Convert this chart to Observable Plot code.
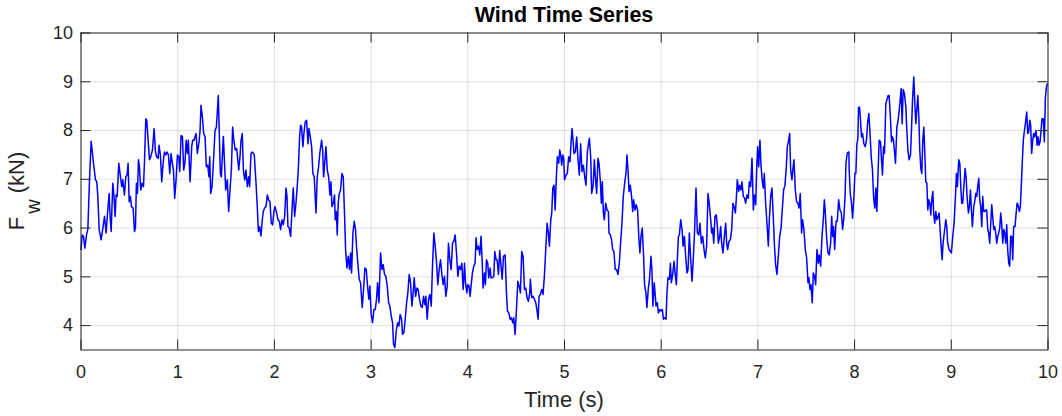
<!DOCTYPE html>
<html>
<head>
<meta charset="utf-8">
<script src="https://cdn.jsdelivr.net/npm/d3@7"></script>
<script src="https://cdn.jsdelivr.net/npm/@observablehq/plot@0.6"></script>
<style>
  html, body { margin: 0; padding: 0; background: #fff; }
  #wrap { position: relative; width: 1062px; height: 416px; }
  #title { position: absolute; left: 80px; width: 968px; top: 3px; text-align: center;
           font: bold 21.5px "Liberation Sans", Arial, sans-serif; color: #000; }
</style>
</head>
<body>
<div id="wrap"><div id="title">Wind Time Series</div></div>
<script>
const title = "Wind Time Series";
const xLabel = "Time (s)";
const yLabelMain = "F";
const yLabelSub = "w";
const yLabelUnit = " (kN)";
const xTicks = [0, 1, 2, 3, 4, 5, 6, 7, 8, 9, 10];
const yTicks = [4, 5, 6, 7, 8, 9, 10];

const time = [
0.000,0.012,0.026,0.040,0.057,0.071,0.088,0.105,0.115,0.129,0.150,0.163,0.174,0.188,0.208,0.226,0.243,0.260,0.274,0.291,
0.301,0.312,0.329,0.339,0.353,0.363,0.374,0.391,0.408,0.422,0.432,0.449,0.463,0.477,0.487,0.498,0.511,0.522,0.539,0.553,
0.563,0.573,0.584,0.594,0.604,0.618,0.632,0.646,0.656,0.670,0.680,0.694,0.708,0.721,0.739,0.756,0.770,0.783,0.797,0.807,
0.821,0.835,0.849,0.863,0.876,0.890,0.904,0.918,0.931,0.945,0.956,0.969,0.983,0.997,1.011,1.021,1.035,1.049,1.062,1.076,
1.087,1.100,1.110,1.128,1.145,1.155,1.169,1.179,1.190,1.203,1.221,1.231,1.241,1.255,1.269,1.283,1.296,1.310,1.324,1.331,
1.341,1.355,1.369,1.386,1.400,1.420,1.431,1.441,1.451,1.472,1.486,1.496,1.513,1.527,1.541,1.555,1.568,1.582,1.596,1.610,
1.620,1.631,1.644,1.655,1.668,1.679,1.693,1.706,1.720,1.734,1.744,1.758,1.772,1.792,1.810,1.823,1.834,1.847,1.861,1.875,
1.885,1.899,1.913,1.927,1.940,1.954,1.968,1.982,1.995,2.006,
2.023,2.037,2.051,2.064,2.078,2.092,2.106,2.120,2.130,2.140,2.154,2.168,2.182,2.195,2.209,2.223,2.236,2.247,2.261,2.271,
2.281,2.295,2.305,2.319,2.333,2.347,2.357,2.371,2.385,2.398,2.412,2.430,2.443,2.457,2.471,2.488,2.499,2.509,2.519,2.533,
2.547,2.561,2.574,2.585,2.595,2.609,2.622,2.629,2.640,2.650,2.660,2.671,2.684,2.698,2.712,2.726,2.736,2.750,2.764,2.777,
2.788,2.798,2.812,2.826,2.839,2.850,2.863,2.877,2.891,2.908,2.922,2.936,2.950,2.963,2.977,2.987,3.001,3.015,3.029,3.043,
3.056,3.067,3.081,3.098,3.112,3.125,3.139,3.153,3.167,3.181,3.194,3.208,3.222,3.232,3.246,3.260,3.274,3.287,3.301,3.315,
3.325,3.339,3.353,3.367,3.380,3.394,3.408,3.422,3.432,3.446,3.460,3.474,3.487,3.501,3.515,3.529,3.542,3.556,3.566,3.580,
3.594,3.608,3.622,3.635,3.649,3.663,3.677,3.690,3.704,3.718,3.732,3.745,3.759,3.773,3.787,3.800,3.814,3.828,3.842,3.856,
3.869,3.883,3.897,3.911,3.925,3.938,3.952,3.966,
3.976,3.990,4.000,4.013,4.024,4.037,4.048,4.062,4.075,4.086,4.096,4.110,4.124,4.137,4.148,4.158,4.172,4.182,4.193,4.206,
4.217,4.231,4.241,4.255,4.269,4.279,4.293,4.303,4.317,4.330,4.341,4.355,4.369,4.386,4.400,4.410,4.424,4.438,4.451,4.465,
4.475,4.489,4.503,4.517,4.531,4.544,4.558,4.572,4.586,4.599,4.613,4.627,4.641,4.647,4.661,4.675,4.689,4.703,4.716,4.727,
4.737,4.751,4.765,4.778,4.792,4.806,4.820,4.833,4.844,4.858,4.868,4.879,4.892,4.903,4.916,4.926,4.940,4.951,4.961,4.971,
4.982,4.992,5.000,5.016,5.029,5.043,5.057,5.067,5.078,5.088,5.098,5.112,5.126,5.140,5.153,5.167,5.181,5.195,5.209,5.222,
5.236,5.246,5.257,5.271,5.281,5.295,5.309,5.319,5.333,5.346,5.357,5.371,5.381,5.391,5.402,5.412,5.426,5.440,5.454,5.460,
5.474,5.487,5.498,5.511,5.525,5.539,5.553,5.567,5.580,5.594,5.608,5.622,5.636,5.646,5.657,5.667,5.680,5.694,5.705,5.715,
5.729,5.742,5.756,5.770,5.780,5.791,5.804,5.818,5.828,5.842,5.852,5.866,5.880,5.894,5.904,5.914,5.928,
5.947,5.960,5.971,5.985,5.998,6.012,6.023,6.037,6.050,6.060,6.070,6.084,6.095,6.105,6.119,6.133,6.143,6.157,6.167,6.178,
6.188,6.202,6.216,6.226,6.240,6.253,6.267,6.278,6.291,6.305,6.319,6.333,6.346,6.360,6.374,6.388,6.401,6.415,6.429,6.443,
6.456,6.470,6.484,6.498,6.512,6.522,6.532,6.543,6.556,6.570,6.581,6.591,6.605,6.615,6.625,6.639,6.653,6.667,6.677,6.687,
6.701,6.715,6.729,6.742,6.753,6.767,6.777,6.787,6.801,6.811,6.825,6.835,6.849,6.863,6.873,6.887,6.901,6.911,6.925,6.939,
6.953,6.963,6.977,6.987,6.997,7.008,7.021,7.032,7.046,7.056,7.066,7.080,7.094,7.108,7.118,7.132,7.145,7.159,7.170,7.183,
7.197,7.211,7.225,7.239,7.252,7.266,7.280,7.294,7.304,7.318,7.328,7.339,7.352,7.363,7.373,7.387,7.400,7.414,7.425,7.438,
7.452,7.462,7.476,7.490,7.504,7.518,7.528,7.538,7.549,7.562,7.573,7.587,7.597,7.611,7.625,7.635,7.649,7.663,7.676,7.687,
7.697,7.711,7.725,7.738,7.752,7.763,7.773,7.783,7.794,7.808,7.821,7.835,7.849,7.863,7.876,7.890,7.901,7.911,
7.924,7.941,7.944,7.955,7.968,7.979,7.993,8.003,8.013,8.023,8.034,8.041,8.051,8.061,8.072,8.082,8.096,8.110,8.123,8.134,
8.147,8.158,8.172,8.185,8.196,8.209,8.220,8.230,8.240,8.254,8.268,8.278,8.288,8.299,8.309,8.323,8.337,8.347,8.357,8.371,
8.382,8.392,8.402,8.413,8.423,8.437,8.450,8.461,8.471,8.481,8.492,8.502,8.516,8.530,8.540,8.551,8.564,8.578,8.588,8.599,
8.612,8.623,8.633,8.643,8.654,8.664,8.674,8.685,8.695,8.705,8.716,8.726,8.736,8.747,8.757,8.767,8.778,8.788,8.798,8.809,
8.819,8.829,8.840,8.850,8.864,8.874,8.884,8.895,8.905,8.915,8.929,8.943,8.953,8.963,8.977,8.991,9.001,9.015,9.029,9.043,
9.053,9.063,9.077,9.088,9.098,9.108,9.118,9.132,9.143,9.153,9.163,9.177,9.187,9.198,9.208,9.218,9.232,9.242,9.253,9.263,
9.273,9.284,9.294,9.304,9.315,9.325,9.335,9.346,9.356,9.366,9.377,9.387,9.397,9.408,9.418,9.428,9.439,9.449,9.459,9.470,
9.480,9.490,9.501,9.511,9.521,9.532,9.542,9.552,9.563,9.573,9.583,9.594,9.604,9.614,9.625,9.635,9.645,9.659,9.669,9.680,
9.690,9.704,9.714,9.725,9.735,9.745,9.756,9.766,9.780,9.790,9.800,9.811,9.821,9.831,9.842,9.852,9.862,9.876,9.887,9.897,
9.907,9.918,9.928,9.938,9.952,9.962,9.973,9.983,9.993
];

const force = [
5.56,5.86,5.83,5.59,5.86,5.98,6.99,7.78,7.60,7.33,6.99,6.95,6.65,5.97,5.76,6.00,6.24,5.90,6.30,6.71,
6.24,5.93,6.92,6.71,6.24,6.68,6.65,7.33,7.05,6.85,6.99,6.68,7.05,7.09,7.33,6.54,6.65,6.44,6.41,5.93,
6.00,6.92,6.71,7.40,7.26,6.78,6.92,6.85,7.33,8.24,8.21,7.80,7.40,7.46,7.60,8.04,7.56,7.46,7.43,7.70,
7.50,6.95,7.33,7.56,7.50,7.56,7.50,7.12,7.53,7.33,7.19,6.61,6.99,7.50,7.46,7.16,7.90,7.87,7.19,7.36,
7.80,7.53,7.80,6.95,7.67,7.80,7.80,7.87,7.94,7.53,7.77,8.00,8.52,8.28,7.94,7.87,7.26,7.29,7.05,7.46,
6.71,6.85,7.33,8.00,8.07,8.72,7.87,7.12,7.05,7.88,7.26,6.78,6.99,6.34,6.78,7.19,8.07,7.77,7.60,7.63,
7.43,7.19,7.46,7.80,7.94,7.19,6.99,7.19,6.85,7.05,6.85,7.53,7.56,7.50,6.92,6.44,5.93,6.03,5.84,6.17,
6.34,6.41,6.44,6.68,6.58,6.54,6.10,6.07,6.34,6.44,
6.31,6.17,6.14,5.97,6.17,6.07,6.24,6.82,6.65,6.03,6.00,5.83,6.37,6.82,6.24,6.51,6.85,7.19,7.87,8.11,
8.07,7.67,7.94,8.18,8.21,7.73,8.04,7.87,7.67,7.12,7.05,6.31,7.05,7.26,7.56,7.80,7.60,7.05,7.29,7.67,
7.19,7.05,6.68,6.95,6.44,6.51,6.68,6.17,6.34,5.86,6.51,6.71,6.78,7.12,7.05,6.24,5.56,5.18,5.42,5.15,
5.49,5.08,5.90,6.14,5.97,5.59,5.28,4.95,4.88,4.37,4.74,5.18,5.15,4.81,4.54,4.81,4.23,4.06,4.33,4.33,
4.54,4.88,4.47,5.49,5.15,5.25,5.05,5.01,4.81,4.47,4.40,4.20,4.06,3.62,3.55,3.89,4.06,3.99,4.23,4.13,
3.82,3.86,4.13,4.47,4.67,5.05,4.88,4.40,4.60,4.98,4.60,4.77,4.74,4.54,4.40,4.37,4.60,4.43,4.60,4.13,
4.54,4.64,4.40,5.22,5.90,5.63,5.28,4.84,5.15,5.35,5.05,4.84,5.01,4.60,4.81,5.69,5.35,5.15,5.69,5.73,
5.86,5.49,5.01,5.22,5.15,5.28,4.74,5.28,
4.88,4.67,4.84,4.81,4.60,4.88,5.08,5.22,5.28,5.80,5.56,5.63,5.45,5.83,5.35,4.77,5.08,4.84,5.35,5.28,
4.98,5.18,4.98,4.98,5.01,5.52,5.35,5.35,5.05,5.54,5.28,4.95,5.42,5.45,4.67,4.30,4.26,4.13,4.16,4.06,
4.16,3.82,4.33,4.91,4.81,4.67,5.52,5.42,4.74,4.77,4.57,4.50,4.67,4.95,4.57,4.60,4.54,4.47,4.30,4.13,
4.60,4.64,4.74,4.64,5.01,5.56,6.10,5.90,5.63,6.17,6.31,6.82,6.88,6.37,7.05,7.46,7.33,7.60,7.50,7.29,
7.50,7.43,6.99,7.09,7.12,7.46,7.36,7.73,8.04,7.80,7.53,7.56,7.87,7.40,7.09,7.73,7.16,7.29,7.05,6.88,
7.56,7.70,7.84,7.46,6.71,6.85,7.40,7.05,6.71,7.43,7.33,6.95,6.51,6.95,6.31,6.17,6.51,6.37,6.34,5.90,
5.86,5.76,5.56,5.52,5.15,5.15,5.05,5.28,5.69,6.10,6.65,6.92,7.12,7.50,7.19,6.75,6.88,6.65,6.34,6.58,
6.37,6.48,6.37,5.76,5.49,5.83,6.00,5.42,4.84,4.67,4.37,4.74,4.98,5.42,5.15,4.40,4.88,
4.40,4.47,4.26,4.33,4.30,4.33,4.13,4.16,4.13,4.67,4.98,4.95,5.28,4.88,5.05,5.32,5.08,4.84,5.35,5.83,
5.86,6.17,5.97,5.63,5.83,5.42,5.08,5.15,5.90,5.35,4.91,5.42,5.97,6.82,5.90,5.86,6.10,5.69,5.83,5.56,
5.39,5.63,6.71,6.48,6.17,5.90,6.00,5.69,6.24,6.27,6.03,5.69,5.83,6.03,5.69,5.49,5.83,6.10,5.69,5.56,
5.73,5.76,5.97,6.51,6.44,6.31,6.61,6.99,6.75,6.88,6.78,6.95,6.65,6.61,6.51,6.68,6.61,6.95,6.85,7.43,
6.37,6.68,6.48,7.19,7.67,7.26,7.80,7.29,6.95,6.82,7.12,6.51,6.10,5.63,6.17,6.65,6.82,6.24,5.69,5.25,
5.05,5.42,5.83,6.00,6.37,6.78,6.88,7.26,7.67,7.80,7.94,7.19,6.99,7.23,7.40,6.78,6.54,6.51,6.41,6.71,
5.90,6.17,5.97,5.56,5.39,4.88,4.98,4.74,4.84,4.47,5.08,5.01,4.84,5.56,5.28,5.45,5.22,5.83,6.17,6.58,
6.31,5.80,5.49,5.45,5.69,6.24,5.83,6.03,5.56,6.14,6.14,6.58,6.37,6.31,5.97,6.24,6.65,7.33,
7.54,7.56,7.19,6.71,6.51,6.20,6.65,7.12,7.12,7.70,7.84,8.48,8.48,8.21,7.87,7.94,7.73,7.67,7.80,8.14,
8.35,8.00,7.46,7.19,6.65,6.41,6.82,6.34,6.99,7.80,7.77,7.40,7.09,7.67,7.53,8.55,8.65,8.72,8.72,8.24,
7.77,7.87,7.80,7.56,7.33,8.07,8.21,8.41,8.62,8.86,8.14,8.84,8.75,8.48,8.00,7.60,7.40,7.50,8.00,8.62,
9.10,8.55,8.14,8.41,8.72,8.28,7.60,7.22,7.12,7.80,8.07,7.53,6.95,6.92,6.37,6.58,6.51,6.27,6.58,6.75,
6.27,6.10,6.34,6.17,6.24,6.31,5.97,5.63,5.35,5.69,5.93,6.17,6.03,5.69,5.56,5.52,5.49,5.83,6.10,6.65,
7.12,6.85,7.40,7.33,6.85,6.51,6.51,6.92,7.22,7.05,6.65,6.31,6.44,6.78,6.37,6.03,6.44,6.54,6.71,6.65,
6.85,7.02,6.58,6.44,6.03,6.65,6.34,6.34,6.37,6.37,5.97,5.90,5.69,6.10,6.48,6.24,5.97,6.03,5.90,5.69,
5.83,5.90,6.00,6.31,6.10,5.69,5.97,5.90,5.69,6.07,5.56,5.28,5.22,5.83,5.83,5.35,6.03,6.03,6.27,6.51,
6.48,6.34,6.44,6.92,7.40,7.80,8.00,8.14,8.38,7.94,7.97,8.21,8.11,7.53,7.80,7.94,7.87,8.00,7.70,7.87,
7.70,7.77,8.00,8.24,8.24,7.77,8.68,8.89,8.96
];

const W = 1062, H = 416;
const mL = 80.5, mR = 14.5, mT = 32.5, mB = 66.5;
const plotW = W - mL - mR, plotH = H - mT - mB;
const data = time.map((t, i) => ({t, f: force[i]}));
const ink = "#262626";
const font = "'Liberation Sans', Arial, sans-serif";

const chart = Plot.plot({
  width: W, height: H,
  marginLeft: mL, marginRight: mR, marginTop: mT, marginBottom: mB,
  style: {fontFamily: font, fontSize: "18px", color: ink, background: "transparent", overflow: "visible"},
  x: {domain: [0, 10], label: null},
  y: {domain: [3.5, 10], label: null},
  marks: [
    Plot.gridX(xTicks, {stroke: "#000", strokeOpacity: 0.12, strokeWidth: 1}),
    Plot.gridY(yTicks, {stroke: "#000", strokeOpacity: 0.12, strokeWidth: 1}),
    Plot.line(data, {x: "t", y: "f", stroke: "#0000ff", strokeWidth: 1.5, curve: "linear"}),
    Plot.tickX(xTicks, {x: d => d, insetTop: plotH - 10, stroke: ink}),
    Plot.tickX(xTicks, {x: d => d, insetBottom: plotH - 10, stroke: ink}),
    Plot.tickY(yTicks, {y: d => d, insetRight: plotW - 10, stroke: ink}),
    Plot.tickY(yTicks, {y: d => d, insetLeft: plotW - 10, stroke: ink}),
    Plot.frame({stroke: ink, strokeWidth: 1}),
    Plot.axisX(xTicks, {tickSize: 0, tickPadding: 15, label: null, tickFormat: d => String(d), fill: ink}),
    Plot.axisY(yTicks, {tickSize: 0, tickPadding: 8, label: null, tickFormat: d => String(d), fill: ink})
  ]
});

const wrap = document.getElementById("wrap");
wrap.insertBefore(chart, wrap.firstChild);
const svg = d3.select(chart);

svg.append("text")
  .attr("x", mL + plotW / 2).attr("y", 407)
  .attr("text-anchor", "middle")
  .attr("font-family", font).attr("font-size", 22).attr("fill", ink)
  .text(xLabel);

const yl = svg.append("text")
  .attr("transform", `translate(24, ${mT + plotH / 2}) rotate(-90)`)
  .attr("text-anchor", "middle")
  .attr("font-family", font).attr("font-size", 22).attr("fill", ink);
yl.append("tspan").text(yLabelMain);
yl.append("tspan").attr("dy", 16).attr("dx", 3).attr("font-size", 20).text(yLabelSub);
yl.append("tspan").attr("dy", -16).text(yLabelUnit);

document.getElementById("title").textContent = title;
</script>
</body>
</html>
